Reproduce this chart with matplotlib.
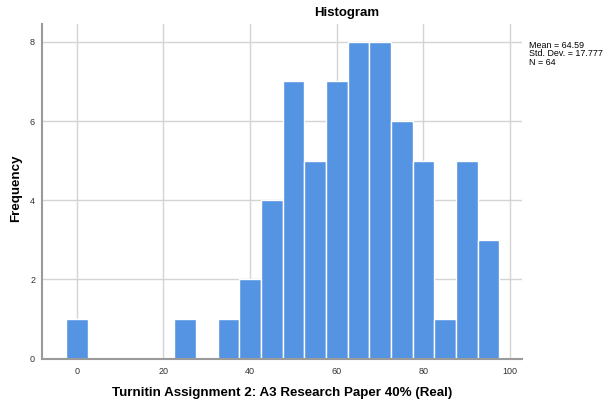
import matplotlib
matplotlib.use("Agg")
import matplotlib.pyplot as plt

plt.rcParams['font.family'] = ['Liberation Sans', 'DejaVu Sans']

# bin centres (width 5) and counts
centros = [0, 25, 35, 40, 45, 50, 55, 60, 65, 70, 75, 80, 85, 90, 95]
frequencias = [1, 1, 1, 2, 4, 7, 5, 7, 8, 8, 6, 5, 1, 5, 3]
largura = 5
estatisticas = ["Mean = 64.59", "Std. Dev. = 17.777", "N = 64"]

fig = plt.figure(figsize=(6.03, 4.05), dpi=100)
ax = fig.add_axes([0.0697, 0.1143, 0.7955, 0.8264])

ax.bar(centros, frequencias, width=largura, color='#5594e3',
       edgecolor='white', linewidth=1.0, zorder=3)

ax.set_xlim(-8, 102.7)
ax.set_ylim(0, 8.45)
ax.set_xticks([0, 20, 40, 60, 80, 100])
ax.set_yticks([0, 2, 4, 6, 8])
ax.grid(True, color='#d4d4d4', linewidth=1.0, zorder=0)
ax.tick_params(axis='x', length=0, labelsize=6.5, colors='#333333', pad=6)
ax.tick_params(axis='y', length=0, labelsize=6.5, colors='#333333', pad=5)

for lado in ['top', 'right']:
    ax.spines[lado].set_visible(False)
for lado in ['left', 'bottom']:
    ax.spines[lado].set_color('#9a9a9a')
    ax.spines[lado].set_linewidth(1.5)
    ax.spines[lado].set_zorder(4)

fig.text(0.4685, 0.0304, "Turnitin Assignment 2: A3 Research Paper 40% (Real)",
         fontsize=9.6, fontweight='bold', ha='center', va='center')
fig.text(0.026, 0.535, "Frequency", fontsize=9.6, fontweight='bold',
         rotation=90, ha='center', va='center')

fig.text(0.575, 0.968, "Histogram", fontsize=9.5, fontweight='bold',
         ha='center', va='center')
fig.text(0.877, 0.9, "\n".join(estatisticas), fontsize=6.4, ha='left',
         va='top', linespacing=0.95)

fig.savefig("out.png", dpi=100)
